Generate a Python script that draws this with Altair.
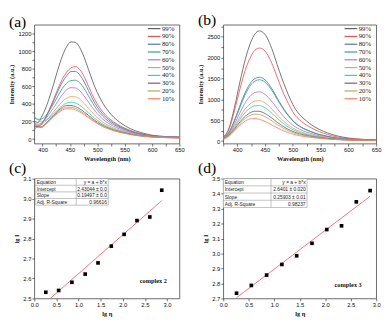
import altair as alt
import pandas as pd

# ---------------- data ----------------
LEVELS = ["99%", "90%", "80%", "70%", "60%", "50%", "40%", "30%", "20%", "10%"]
COLORS = ["#5a5a5a", "#ff4a4a", "#4a6fc9", "#3a9e78", "#b46ee8",
          "#e2a155", "#35d0bb", "#7b5b70", "#a9a86a", "#ff7b5e"]

# panel (a): complex 2 emission spectra
WL_A = [386, 392, 398, 405, 412, 420, 428, 436, 444, 452, 460, 468, 476,
        484, 492, 500, 510, 520, 530, 545, 560, 580, 600, 625, 650]
SPEC_A = {
    "99%": [200, 190, 250, 340, 460, 620, 790, 940, 1050, 1105, 1100, 1040, 930,
            790, 650, 530, 410, 320, 250, 175, 120, 75, 45, 30, 25],
    "90%": [165, 150, 175, 240, 330, 450, 570, 680, 760, 810, 825, 790, 710,
            600, 490, 400, 310, 245, 195, 140, 100, 62, 40, 28, 22],
    "80%": [150, 145, 170, 235, 320, 430, 545, 645, 720, 768, 770, 730, 650,
            550, 450, 365, 285, 225, 180, 130, 92, 58, 38, 26, 20],
    "70%": [240, 225, 230, 260, 320, 400, 490, 575, 635, 665, 670, 640, 575,
            490, 405, 330, 260, 205, 165, 120, 85, 55, 35, 25, 20],
    "60%": [180, 170, 185, 225, 285, 355, 430, 505, 560, 585, 582, 550, 490,
            420, 350, 290, 228, 182, 146, 106, 76, 50, 33, 24, 20],
    "50%": [170, 160, 165, 200, 250, 310, 370, 425, 465, 483, 480, 455, 405,
            350, 295, 245, 195, 157, 127, 93, 67, 44, 30, 22, 18],
    "40%": [250, 220, 200, 210, 240, 285, 335, 380, 410, 420, 412, 385, 345,
            300, 255, 215, 172, 140, 114, 85, 62, 41, 28, 20, 16],
    "30%": [140, 145, 140, 175, 220, 270, 320, 360, 383, 383, 370, 345, 310,
            270, 230, 195, 157, 128, 105, 79, 58, 38, 26, 19, 15],
    "20%": [125, 135, 135, 165, 210, 260, 305, 343, 363, 363, 350, 325, 292,
            255, 218, 185, 150, 122, 100, 75, 55, 36, 25, 18, 14],
    "10%": [115, 140, 130, 160, 205, 252, 295, 330, 346, 345, 333, 310, 278,
            243, 208, 177, 143, 117, 96, 72, 53, 35, 24, 17, 13],
}

# panel (b): complex 3 emission spectra
WL_B = [375, 385, 395, 405, 415, 425, 432, 440, 448, 456, 464, 472, 480,
        488, 496, 504, 512, 520, 530, 540, 555, 570, 590, 610, 630, 650]
SPEC_B = {
    "99%": [100, 300, 800, 1420, 1980, 2390, 2570, 2640, 2590, 2420, 2150, 1830, 1520,
            1240, 990, 780, 640, 535, 425, 335, 235, 160, 95, 58, 38, 28],
    "90%": [90, 270, 720, 1250, 1720, 2040, 2180, 2230, 2185, 2040, 1810, 1530, 1250,
            1010, 800, 620, 510, 425, 340, 270, 190, 128, 76, 48, 32, 24],
    "80%": [80, 200, 490, 850, 1180, 1410, 1500, 1530, 1490, 1380, 1220, 1030, 850,
            690, 555, 440, 360, 300, 240, 190, 135, 92, 55, 36, 25, 20],
    "70%": [85, 200, 470, 810, 1130, 1350, 1440, 1470, 1435, 1330, 1180, 1000, 830,
            675, 545, 435, 355, 295, 236, 187, 132, 90, 54, 35, 25, 20],
    "60%": [75, 175, 400, 680, 930, 1100, 1165, 1180, 1140, 1045, 920, 780, 645,
            525, 425, 345, 285, 238, 192, 153, 110, 76, 47, 31, 22, 18],
    "50%": [70, 160, 350, 580, 780, 910, 960, 968, 930, 850, 745, 630, 520,
            425, 345, 282, 233, 196, 158, 127, 92, 64, 40, 27, 20, 16],
    "40%": [65, 150, 320, 520, 695, 808, 848, 850, 812, 740, 648, 548, 452,
            370, 302, 248, 206, 173, 140, 113, 82, 58, 37, 25, 18, 15],
    "30%": [60, 140, 290, 460, 600, 690, 718, 712, 675, 612, 535, 452, 375,
            308, 253, 209, 175, 148, 121, 98, 72, 51, 33, 23, 17, 14],
    "20%": [55, 130, 270, 425, 548, 625, 645, 635, 598, 540, 470, 398, 330,
            272, 225, 187, 157, 133, 109, 89, 66, 47, 31, 22, 16, 13],
    "10%": [40, 110, 240, 380, 485, 535, 538, 520, 484, 433, 375, 318, 265,
            220, 183, 153, 129, 110, 91, 75, 56, 40, 27, 19, 14, 11],
}

# panels (c), (d): lg I vs lg eta
LG_ETA = [0.26, 0.55, 0.85, 1.15, 1.44, 1.74, 2.03, 2.32, 2.61, 2.88]
LG_I_2 = [2.531, 2.540, 2.581, 2.622, 2.678, 2.762, 2.821, 2.890, 2.908, 3.042]
LG_I_3 = [2.735, 2.787, 2.856, 2.927, 2.985, 3.068, 3.160, 3.185, 3.345, 3.420]

FIT_KEYS = ["Equation", "Intercept", "Slope", "Adj. R-Square"]
FIT_2 = ["y = a + b*x", "2.43044 ± 0.0", "0.19497 ± 0.0", "0.96616"]
FIT_3 = ["y = a + b*x", "2.6401 ± 0.020", "0.25903 ± 0.01", "0.98237"]

LABEL_2 = {"x": [2.69], "y": [2.589], "t": ["complex 2"]}
LABEL_3 = {"x": [2.45], "y": [2.79], "t": ["complex 3"]}

# axis tick values
XT_SPEC = [375, 400, 425, 450, 475, 500, 525, 550, 575, 600, 625, 650]
YT_A = [0, 100, 200, 300, 400, 500, 600, 700, 800, 900, 1000, 1100, 1200]
YT_B = [0, 250, 500, 750, 1000, 1250, 1500, 1750, 2000, 2250, 2500, 2750]
XT_FIT = [0.0, 0.5, 1.0, 1.5, 2.0, 2.5, 3.0]
YT_C = [2.5, 2.6, 2.7, 2.8, 2.9, 3.0, 3.1]
YT_D = [2.7, 2.8, 2.9, 3.0, 3.1, 3.2, 3.3, 3.4, 3.5]

SERIF = "Liberation Serif"
SANS = "Liberation Sans"


def letter_title(txt, dy):
    return alt.TitleParams(text=txt, anchor="start", frame="group", dx=-26, dy=dy,
                           font=SERIF, fontSize=16, fontWeight="normal",
                           color="black", offset=0)


def every(step):
    return f"abs(datum.value/{step} - round(datum.value/{step})) < 0.001 ? datum.label : ''"


def spectra_panel(wl, spec, xdom, ydom, ymajor, yvals, w, h, letter, legx):
    rows = [{"wl": x, "I": v, "conc": k}
            for k in LEVELS for x, v in zip(wl, spec[k])]
    df = pd.DataFrame(rows)
    return alt.Chart(df).mark_line(strokeWidth=0.85, interpolate="monotone",
                                   clip=True).encode(
        x=alt.X("wl:Q", scale=alt.Scale(domain=xdom, nice=False, zero=False),
                axis=alt.Axis(values=XT_SPEC, format="d", labelExpr=every(50),
                              labelOverlap=False, title="Wavelength (nm)")),
        y=alt.Y("I:Q", scale=alt.Scale(domain=ydom, nice=False, zero=False),
                axis=alt.Axis(values=yvals, format="d", labelExpr=every(ymajor),
                              labelOverlap=False, title="Intensity (a.u.)")),
        color=alt.Color("conc:N", sort=LEVELS,
                        scale=alt.Scale(domain=LEVELS, range=COLORS),
                        legend=alt.Legend(title=None, orient="none", legendX=legx,
                                          legendY=0, symbolType="M-2,0H2",
                                          symbolSize=42, symbolStrokeWidth=1.2,
                                          labelFont=SERIF, labelFontSize=7,
                                          labelColor="#222", labelOffset=4,
                                          rowPadding=1, padding=0)),
    ).properties(width=w, height=h, title=letter_title(letter, 5))


def table_layer(x0, y0, w, div, rh, keys, vals, fs):
    px = alt.Scale(domain=[0, 1000], range=[0, 1000])
    lines = [{"x": x0, "x2": x0 + w, "y": y0 + i * rh, "y2": y0 + i * rh} for i in range(5)]
    lines += [{"x": xv, "x2": xv, "y": y0, "y2": y0 + 4 * rh}
              for xv in (x0, x0 + div, x0 + w)]
    ldf = pd.DataFrame(lines)
    tdf = pd.DataFrame({"k": keys, "v": vals,
                        "y": [y0 + (i + 0.5) * rh for i in range(4)],
                        "xl": [x0 + 1.5] * 4, "xr": [x0 + w - 1.5] * 4})
    bg = alt.Chart(pd.DataFrame([{"x": x0, "x2": x0 + w, "y": y0, "y2": y0 + 4 * rh}])).mark_rect(
        fill="white").encode(x=alt.X("x:Q", scale=px, axis=None), x2="x2:Q",
                             y=alt.Y("y:Q", scale=px, axis=None), y2="y2:Q")
    rules = alt.Chart(ldf).mark_rule(color="#9a9a9a", strokeWidth=0.6).encode(
        x=alt.X("x:Q", scale=px, axis=None), x2="x2:Q",
        y=alt.Y("y:Q", scale=px, axis=None), y2="y2:Q")
    tl = alt.Chart(tdf).mark_text(align="left", baseline="middle", font=SANS,
                                  fontSize=fs, color="#222").encode(
        x=alt.X("xl:Q", scale=px, axis=None), y=alt.Y("y:Q", scale=px, axis=None), text="k:N")
    tr = alt.Chart(tdf).mark_text(align="right", baseline="middle", font=SANS,
                                  fontSize=fs, color="#222").encode(
        x=alt.X("xr:Q", scale=px, axis=None), y=alt.Y("y:Q", scale=px, axis=None), text="v:N")
    return alt.layer(bg, rules, tl, tr)


def fit_panel(lgi, xdom, ydom, yvals, label, fitvals, tbl, w, h, letter):
    df = pd.DataFrame({"x": LG_ETA, "y": lgi})
    ldf = pd.DataFrame(label)
    xenc = alt.X("x:Q", scale=alt.Scale(domain=xdom, nice=False, zero=False),
                 axis=alt.Axis(values=XT_FIT, format=".1f", labelOverlap=False,
                               title="lg η"))
    yenc = alt.Y("y:Q", scale=alt.Scale(domain=ydom, nice=False, zero=False),
                 axis=alt.Axis(values=yvals, format=".1f", labelOverlap=False,
                               title="lg I"))
    pts = alt.Chart(df).mark_square(size=14, color="black", opacity=1).encode(x=xenc, y=yenc)
    fit = alt.Chart(df).transform_regression("x", "y").mark_line(
        color="#ff4b4b", strokeWidth=0.8, clip=True).encode(x=xenc, y=yenc)
    txt = alt.Chart(ldf).mark_text(
        font=SERIF, fontSize=6.5, fontWeight="bold", color="#111").encode(
        x=xenc, y=yenc, text="t:N")
    data_layer = alt.layer(fit, pts, txt)
    t = table_layer(tbl[0], tbl[1], tbl[2], tbl[3], tbl[4], FIT_KEYS, fitvals, 5)
    return alt.layer(data_layer, t).resolve_scale(
        x="independent", y="independent").properties(
        width=w, height=h, title=letter_title(letter, 0))


pa = spectra_panel(WL_A, SPEC_A, [385, 650], [-50, 1300], 200, YT_A, 149, 122, "(a)", 119)
pb = spectra_panel(WL_B, SPEC_B, [375, 650], [-60, 2790], 500, YT_B, 157, 122, "(b)", 127)
pc = fit_panel(LG_I_2, [0, 3.28], [2.5, 3.1], YT_C, LABEL_2, FIT_2,
               (1, 0, 75, 42, 6.8), 149, 123, "(c)")
pd_ = fit_panel(LG_I_3, [0, 3.0], [2.7, 3.5], YT_D, LABEL_3, FIT_3,
                (0, 0, 86, 49, 7.4), 157, 123, "(d)")

chart = alt.concat(pa, pb, pc, pd_, columns=2,
                   spacing={"row": 36, "column": 45}, bounds="flush").resolve_scale(
    x="independent", y="independent", color="independent"
).properties(
    padding={"left": 0, "top": 0, "right": 2, "bottom": 0},
    background="white",
).configure_view(
    stroke="#444", strokeWidth=0.8
).configure_axis(
    labelFont=SANS, labelFontSize=6, labelColor="#111",
    titleFont=SERIF, titleFontSize=6.5, titleFontWeight="bold", titleColor="#111",
    tickColor="#333", tickSize=2.5, tickWidth=0.7, labelPadding=1, titlePadding=3,
    domain=False, grid=False, labelOverlap=False, labelFlush=False,
)

chart.save("out.html", embed_options={"renderer": "svg", "actions": False})
